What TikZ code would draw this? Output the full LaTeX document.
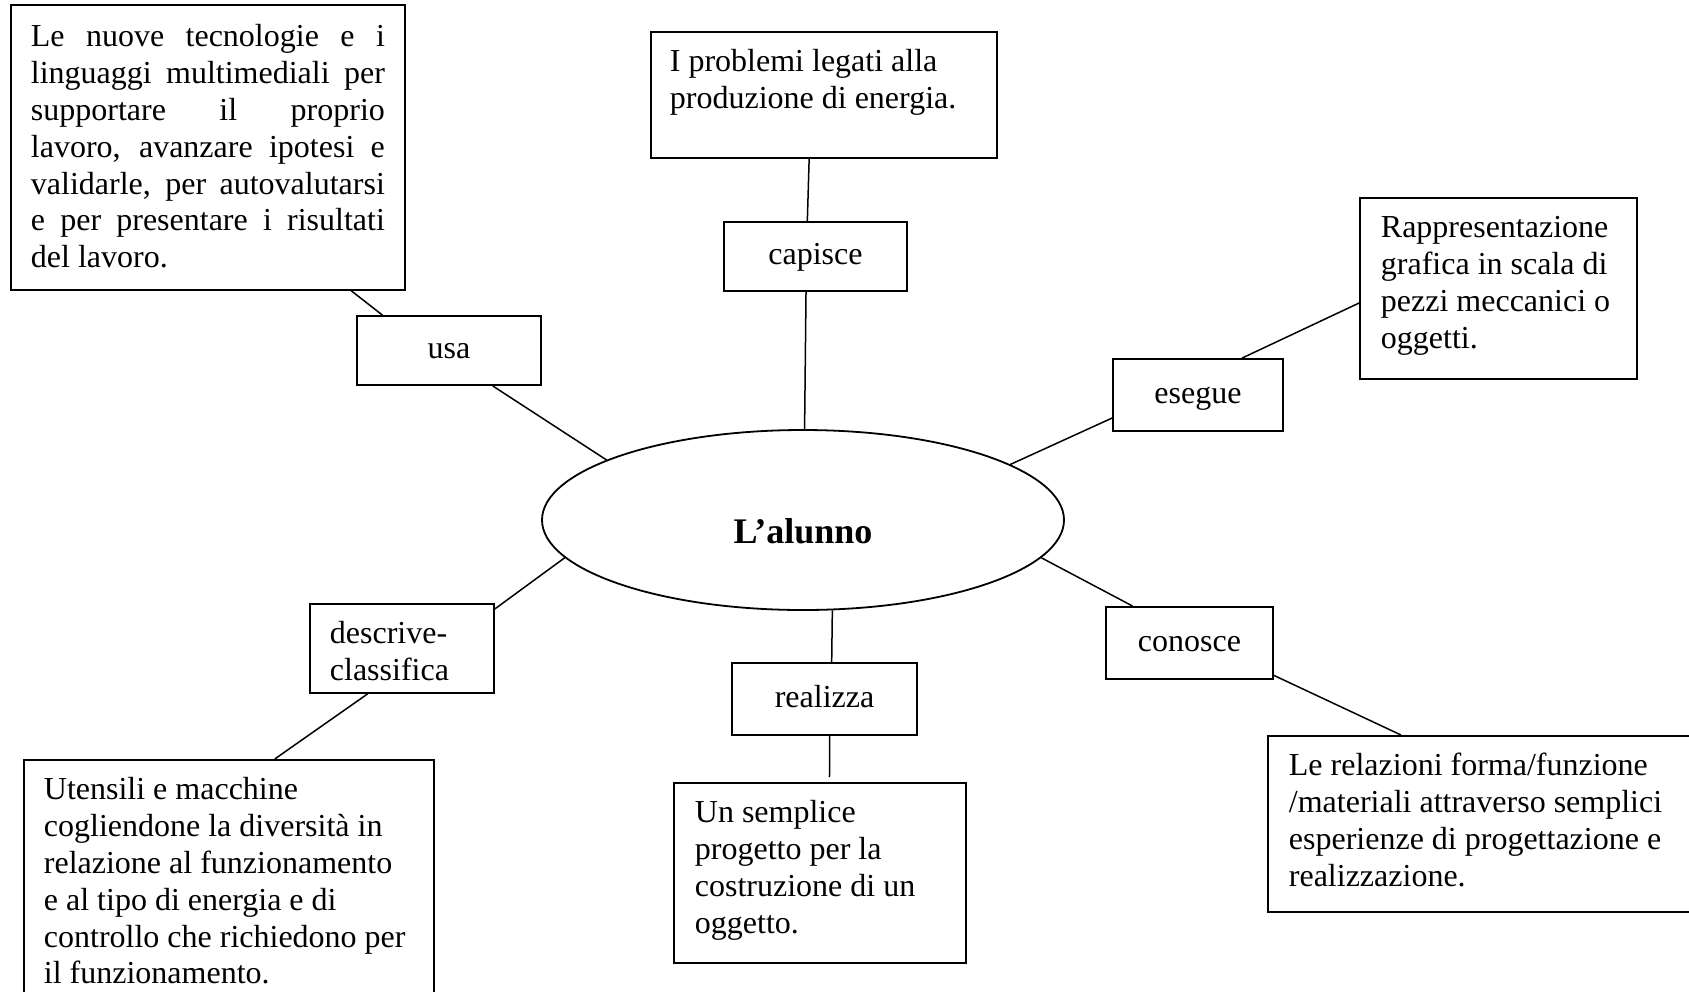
\documentclass[tikz,border=0pt]{standalone}
\usepackage{fontspec}
\setmainfont{Liberation Serif}
\usepackage{tikz}
\usetikzlibrary{shapes.geometric}

\newcommand{\mapfont}{\fontsize{16}{18.4}\selectfont}
\newcommand{\jline}[1]{\makebox[177pt][s]{\spaceskip=0pt\xspaceskip=0pt\relax #1}}

\begin{document}
\begin{tikzpicture}[x=0.5pt, y=-0.5pt,
  txtbox/.style={draw, line width=0.9pt, anchor=north west, align=flush left,
    inner ysep=9pt, text height=11pt, font=\mapfont},
  verbbox/.style={draw, line width=0.9pt, inner sep=0pt, text height=11pt,
    text depth=3pt, font=\mapfont},
  link/.style={line width=0.75pt}]
  \useasboundingbox (0,0) rectangle (1689,991);
  \fill[white] (0,0) rectangle (1689,991);
  \clip (0,0) rectangle (1689,991);

  \node[draw, ellipse, line width=0.9pt, minimum width=261pt, minimum height=90pt,
    inner sep=0pt, text height=23pt, text depth=0pt,
    font=\fontsize{18}{20}\selectfont\bfseries] (alunno) at (803,520) {L’alunno};

  \node[txtbox, inner xsep=10pt, inner ysep=10pt, text width=177pt, text depth=111.5pt]
    (tools) at (10,4) {\jline{Le nuove tecnologie e i}\\
      \jline{linguaggi multimediali per}\\
      \jline{supportare il proprio}\\
      \jline{lavoro, avanzare ipotesi e}\\
      \jline{validarle, per autovalutarsi}\\
      \jline{e per presentare i risultati}\\
      del lavoro.};
  \node[txtbox, inner xsep=9.5pt, text width=154pt, text depth=34pt]
    (energy) at (650,31) {I problemi legati alla\\produzione di energia.};
  \node[txtbox, inner xsep=10.5pt, text width=117.5pt, text depth=61.5pt]
    (drawing) at (1359,197) {Rappresentazione\\grafica in scala di\\pezzi meccanici o\\oggetti.};
  \node[txtbox, inner xsep=10pt, text width=72pt, text depth=15.5pt]
    (describe) at (309,603) {descrive-\\classifica};
  \node[txtbox, inner xsep=10pt, text width=185pt, text depth=96pt]
    (machines) at (23,759) {Utensili e macchine\\cogliendone la diversità in\\relazione al funzionamento\\e al tipo di energia e di\\controllo che richiedono per\\il funzionamento.};
  \node[txtbox, inner xsep=10.5pt, text width=125pt, text depth=61pt]
    (project) at (673,782) {Un semplice\\progetto per la\\costruzione di un\\oggetto.};
  \node[txtbox, inner xsep=10.5pt, text width=201pt, text depth=59pt]
    (relations) at (1267,735) {Le relazioni forma/funzione\\/materiali attraverso semplici\\esperienze di progettazione e\\realizzazione.};

  \node[verbbox, minimum width=92pt, minimum height=34.5pt] (usa) at (449,350.5) {usa};
  \node[verbbox, minimum width=91.5pt, minimum height=34.5pt] (capisce) at (815.5,256.5) {capisce};
  \node[verbbox, minimum width=85pt, minimum height=36pt] (esegue) at (1198,395) {esegue};
  \node[verbbox, minimum width=92.5pt, minimum height=36pt] (realizza) at (824.5,699) {realizza};
  \node[verbbox, minimum width=83.5pt, minimum height=36pt] (conosce) at (1189.5,643) {conosce};

  \draw[link] (tools.-45.1) -- (usa.152.8);
  \draw[link] (usa.-39.4) -- (alunno.163.4);
  \draw[link] (energy.-103.4) -- (capisce.103.8);
  \draw[link] (capisce.-105.4) -- (alunno.89);
  \draw[link] (alunno.15.4) -- (esegue.195.1);
  \draw[link] (esegue.40.6) -- (drawing.186.8);
  \draw[link] (alunno.189.2) -- (describe.23.8);
  \draw[link] (describe.-127.4) -- (machines.70.4);
  \draw[link] (alunno.-72) -- (realizza.79.8);
  \draw[link, shorten >=2.5pt] (realizza.-82.9) -- (project.84.9);
  \draw[link] (alunno.-9.7) -- (conosce.147.9);
  \draw[link] (conosce.-21) -- (relations.135.3);
\end{tikzpicture}
\end{document}
